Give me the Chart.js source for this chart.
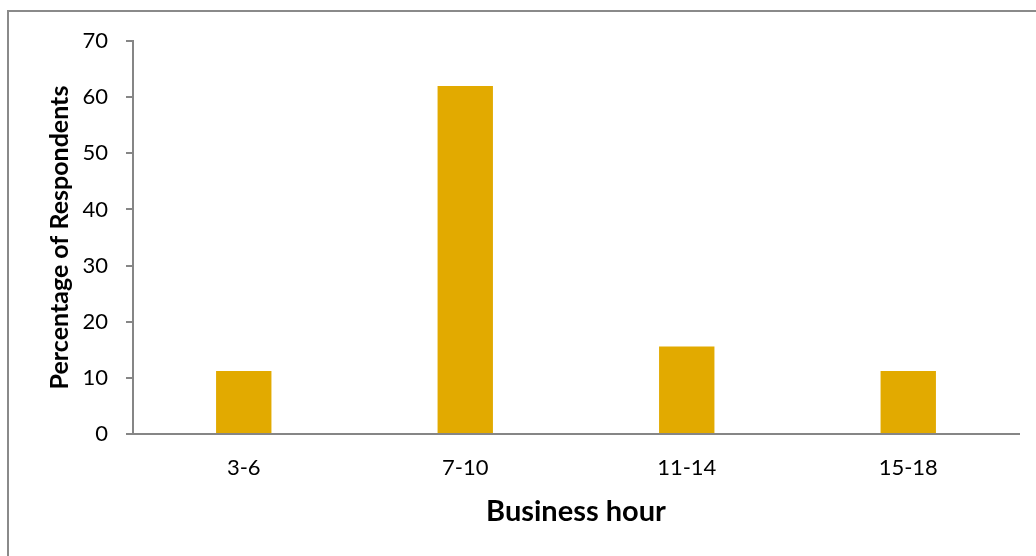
<!DOCTYPE html>
<html>
<head>
<meta charset="utf-8">
<script src="https://cdn.jsdelivr.net/npm/chart.js"></script>
<style>
    html, body { margin: 0; padding: 0; background: #fff; overflow: hidden; }
    #frame {
        position: absolute; left: 7px; top: 10px;
        width: 1100px; height: 700px;
        border: 2px solid #8a8a8a;
    }
    #wrap { position: absolute; left: 0; top: 0; width: 1036px; height: 556px; }
</style>
</head>
<body>
<div id="frame"></div>
<div id="wrap"><canvas id="chart" width="1036" height="556"></canvas></div>
<script>
// Business hour categories and share of respondents (%)
const hourLabels = ['3-6', '7-10', '11-14', '15-18'];
const respondentPct = [11.2, 62, 15.6, 11.2];

const axisGray = '#868686';
const barColor = '#E2AA00';

const ctx = document.getElementById('chart').getContext('2d');
new Chart(ctx, {
    type: 'bar',
    data: {
        labels: hourLabels,
        datasets: [{
            data: respondentPct,
            backgroundColor: barColor,
            borderWidth: 0,
            barPercentage: 0.25,
            categoryPercentage: 1
        }]
    },
    options: {
        responsive: false,
        animation: false,
        layout: { padding: { top: 41, right: 17, left: 0, bottom: 0 } },
        plugins: {
            legend: { display: false },
            tooltip: { enabled: false }
        },
        scales: {
            x: {
                grid: { display: false, drawTicks: false },
                border: { color: axisGray, width: 2 },
                ticks: { color: '#000', padding: 21, font: { family: 'Lato', size: 22 } },
                title: {
                    display: true,
                    text: 'Business hour',
                    color: '#000',
                    padding: { top: 0, bottom: 27 },
                    font: { family: 'Lato', size: 29, weight: 'bold' }
                },
                afterFit: scale => { scale.height = 122; }
            },
            y: {
                min: 0,
                max: 70,
                ticks: { stepSize: 10, color: '#000', padding: 18, font: { family: 'Lato', size: 22 } },
                grid: { drawOnChartArea: false, tickLength: 7, color: axisGray, lineWidth: 2 },
                border: { color: axisGray, width: 2 },
                title: {
                    display: true,
                    text: 'Percentage of Respondents',
                    color: '#000',
                    padding: { top: 45, bottom: 0 },
                    font: { family: 'Lato', size: 25, weight: 'bold' }
                },
                afterFit: scale => { scale.width = 133; }
            }
        }
    }
});
</script>
</body>
</html>
